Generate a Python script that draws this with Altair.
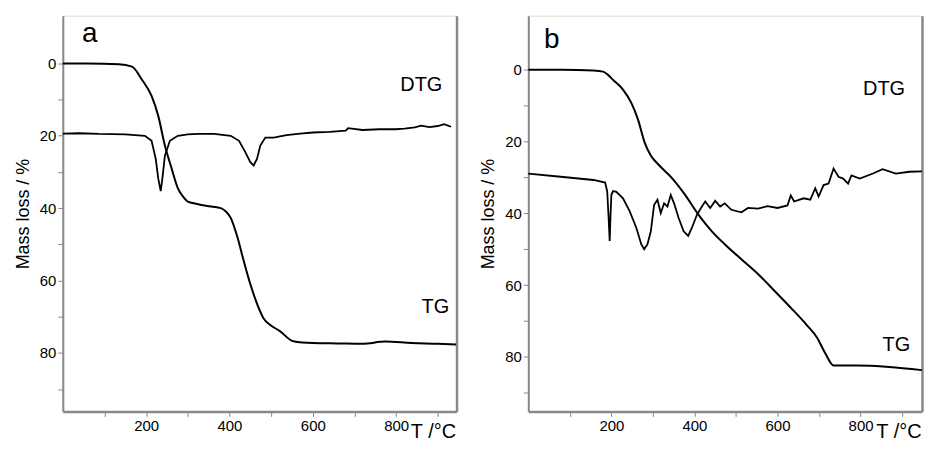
import altair as alt
import pandas as pd

# ---------------- Panel a ----------------
a_tg_T = [0, 60, 134, 166, 190, 213, 229, 245, 261, 276, 290, 300, 320, 340, 379, 392, 403,
          419, 434, 450, 466, 482, 498, 521, 553, 600, 660, 719, 774, 837, 900, 944]
a_tg_mass = [0, 0, 0.2, 0.9, 4.5, 9, 14.5, 22.7, 29, 34.5, 37.0, 38.2, 38.8, 39.3, 40, 41.0,
             42.7, 48, 54.5, 61, 66.4, 70.5, 72.3, 74, 76.8, 77.3, 77.4, 77.5, 76.9, 77.3,
             77.5, 77.7]

a_dtg_T = [0, 40, 87, 150, 197, 213, 223, 229, 235, 239, 245, 257, 276, 300, 324, 363, 403,
           423, 438, 450, 458, 466, 474, 486, 506, 537, 570, 600, 640, 679, 685, 719, 760,
           798, 820, 845, 860, 880, 900, 915, 932]
a_dtg_val = [19.4, 19.3, 19.5, 19.6, 20, 21.4, 26.4, 31.8, 35.3, 31.8, 25.5, 21.4, 20, 19.6,
             19.5, 19.5, 20, 21.4, 24.5, 27.3, 28.2, 26.4, 22.7, 20.5, 20.5, 19.8, 19.4, 19.1,
             18.9, 18.6, 17.9, 18.4, 18.2, 18.2, 18.0, 17.7, 17.2, 17.6, 17.3, 16.8, 17.5]

# ---------------- Panel b ----------------
b_tg_T = [0, 80, 157, 180, 192, 204, 228, 248, 264, 280, 295, 315, 347, 378, 410, 442, 473,
          513, 553, 592, 632, 671, 695, 715, 735, 790, 869, 948]
b_tg_mass = [0, 0, 0.2, 0.5, 1.4, 2.8, 5.5, 9.2, 13.8, 20.2, 23.9, 26.6, 30.3, 34.9, 40.4,
             45, 48.6, 52.8, 56.9, 61.5, 66.3, 71.2, 74.6, 79.0, 82.4, 82.4, 82.8, 83.7]

b_dtg_T = [0, 78, 157, 185, 190, 193, 196, 198, 200, 204, 212, 228, 244, 260, 272, 279, 287,
           295, 303, 311, 319, 327, 335, 343, 351, 362, 374, 385, 394, 406, 418, 426, 438,
           450, 462, 473, 489, 513, 529, 553, 576, 600, 624, 632, 640, 663, 679, 691, 699,
           711, 723, 735, 747, 758, 770, 778, 798, 830, 853, 885, 917, 948]
b_dtg_val = [28.9, 29.8, 30.7, 31.4, 33.9, 40.4, 47.7, 40.4, 34.9, 33.8, 34, 35.8, 39.4, 44,
             48.6, 50, 48.6, 45, 37.6, 36.2, 39.9, 37.2, 38.1, 34.9, 37.2, 41.3, 45, 46.3, 44,
             40.4, 38.1, 36.7, 38.5, 36.5, 38.1, 37.2, 39, 39.7, 38.5, 38.7, 38, 38.5, 37.8,
             35, 36.7, 35.8, 36.2, 33, 35.3, 32.1, 31.7, 27.5, 29.8, 30.3, 31.7, 29.4, 30.3,
             28.9, 27.7, 28.9, 28.4, 28.3]

# ---------------- Annotations ----------------
a_letter = ["a"]
a_letter_T = [46]
a_letter_y = [-5.9]
a_curve_labels = ["DTG", "TG"]
a_curve_T = [810, 861]
a_curve_y = [7.5, 69.1]

b_letter = ["b"]
b_letter_T = [38]
b_letter_y = [-6.0]
b_curve_labels = ["DTG", "TG"]
b_curve_T = [806, 853]
b_curve_y = [6.9, 78.4]

x_ticks = [100, 200, 300, 400, 500, 600, 700, 800, 900]
y_ticks = [0, 10, 20, 30, 40, 50, 60, 70, 80, 90]

FONT = "Liberation Sans"
W, H = 395, 397


def panel(tg_T, tg_m, dtg_T, dtg_v, letter, letter_T, letter_y,
          cl, cl_T, cl_y, xdom, ydom):
    tg = pd.DataFrame({"T": tg_T, "m": tg_m})
    dtg = pd.DataFrame({"T": dtg_T, "m": dtg_v})
    lt = pd.DataFrame({"T": letter_T, "m": letter_y, "t": letter})
    cdf = pd.DataFrame({"T": cl_T, "m": cl_y, "t": cl})

    xs = alt.Scale(domain=xdom, nice=False, zero=False)
    ys = alt.Scale(domain=ydom, nice=False, zero=False, reverse=True)

    xaxis = alt.Axis(values=x_ticks, grid=False,
                     labelExpr="datum.value % 200 == 0 ? datum.label : ''",
                     labelFontSize=15, labelColor="black", labelFont=FONT,
                     title="T /°C", titleFontSize=20, titleFont=FONT,
                     titleFontWeight="normal", titleAlign="right",
                     titleAnchor="end", titleX=W - 1, titleY=26,
                     titleBaseline="alphabetic", domainWidth=2.5)
    yaxis = alt.Axis(values=y_ticks, grid=False,
                     labelExpr="datum.value % 20 == 0 ? datum.label : ''",
                     labelFontSize=15, labelColor="black", labelFont=FONT,
                     title="Mass loss / %", titleFontSize=18, titleFont=FONT,
                     titleFontWeight="normal", titlePadding=7, domainWidth=2)
    raxis = alt.Axis(orient="right", labels=False, ticks=False, grid=False,
                     title="", domainWidth=2.5)

    l1 = alt.Chart(tg).mark_line(color="black", strokeWidth=2,
                                 interpolate="monotone").encode(
        x=alt.X("T:Q", scale=xs, axis=xaxis),
        y=alt.Y("m:Q", scale=ys, axis=yaxis))
    l2 = alt.Chart(dtg).mark_line(color="black", strokeWidth=1.8).encode(
        x=alt.X("T:Q", scale=xs, axis=xaxis),
        y=alt.Y("m:Q", scale=ys, axis=None))
    t1 = alt.Chart(lt).mark_text(align="left", baseline="alphabetic", fontSize=28,
                                 font=FONT, color="black").encode(
        x=alt.X("T:Q", scale=xs, axis=xaxis),
        y=alt.Y("m:Q", scale=ys, axis=None), text="t:N")
    t2 = alt.Chart(cdf).mark_text(align="left", baseline="alphabetic", fontSize=20,
                                  font=FONT, color="black").encode(
        x=alt.X("T:Q", scale=xs, axis=xaxis),
        y=alt.Y("m:Q", scale=ys, axis=raxis),
        text="t:N")
    return alt.layer(l1, l2, t1, t2).resolve_axis(y="independent").properties(
        width=W, height=H)


pa = panel(a_tg_T, a_tg_mass, a_dtg_T, a_dtg_val, a_letter, a_letter_T, a_letter_y,
           a_curve_labels, a_curve_T, a_curve_y, [0, 945], [-13.2, 96.2])
pb = panel(b_tg_T, b_tg_mass, b_dtg_T, b_dtg_val, b_letter, b_letter_T, b_letter_y,
           b_curve_labels, b_curve_T, b_curve_y, [0, 948], [-15.1, 95.2])

chart = alt.hconcat(pa, pb, spacing=17).properties(
    padding={"left": 5, "top": 6, "right": 0, "bottom": 0}
).configure_view(stroke=None).configure_axis(
    labelFont=FONT, labelFontSize=15, labelColor="black", labelPadding=6,
    domainColor="#111", tickColor="#111", tickSize=5, tickWidth=1.3, grid=False,
    titleColor="black"
).configure(background="white")

chart.save("out.html", embed_options={"renderer": "svg", "actions": False})
